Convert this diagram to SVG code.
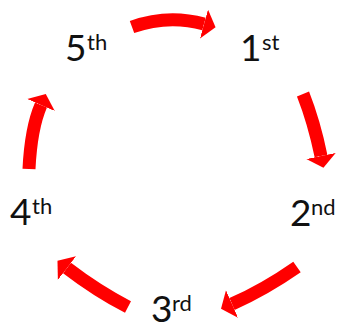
<svg xmlns="http://www.w3.org/2000/svg" width="337" height="330" viewBox="0 0 337 330">
<style>
.lbl{font-family:Lato,"Liberation Sans",sans-serif;fill:#111}
.n{font-size:37px}
.s{font-size:22px}
.arr{fill:none;stroke:#ff0000;stroke-width:13;stroke-linecap:butt;marker-end:url(#head)}
</style>
<defs>
<marker id="head" markerUnits="userSpaceOnUse" markerWidth="14" markerHeight="30" refX="0" refY="15" orient="auto" viewBox="0 0 14 30">
<path d="M0,0 L12,15 L0,30 Z" fill="#ff0000"/>
</marker>
</defs>
<rect width="337" height="330" fill="#fff"/>
<g id="connectors">
<path class="arr" d="M132,27 Q168,14 204,24"/>
<path class="arr" d="M303,94 Q314,122 321,156"/>
<path class="arr" d="M297,267 Q264,290 232,304"/>
<path class="arr" d="M128,307 Q97,291 67,268"/>
<path class="arr" d="M29,169 Q31,128 41,105"/>
</g>
<g id="n1"><text class="lbl"><tspan class="n" x="240" y="61">1</tspan><tspan class="s" x="262" y="50">st</tspan></text></g>
<g id="n2"><text class="lbl"><tspan class="n" x="290" y="226">2</tspan><tspan class="s" x="311" y="215">nd</tspan></text></g>
<g id="n3"><text class="lbl"><tspan class="n" x="151" y="322">3</tspan><tspan class="s" x="172" y="311">rd</tspan></text></g>
<g id="n4"><text class="lbl"><tspan class="n" x="10" y="225">4</tspan><tspan class="s" x="32" y="214">th</tspan></text></g>
<g id="n5"><text class="lbl"><tspan class="n" x="65" y="61">5</tspan><tspan class="s" x="87" y="50">th</tspan></text></g>
</svg>
